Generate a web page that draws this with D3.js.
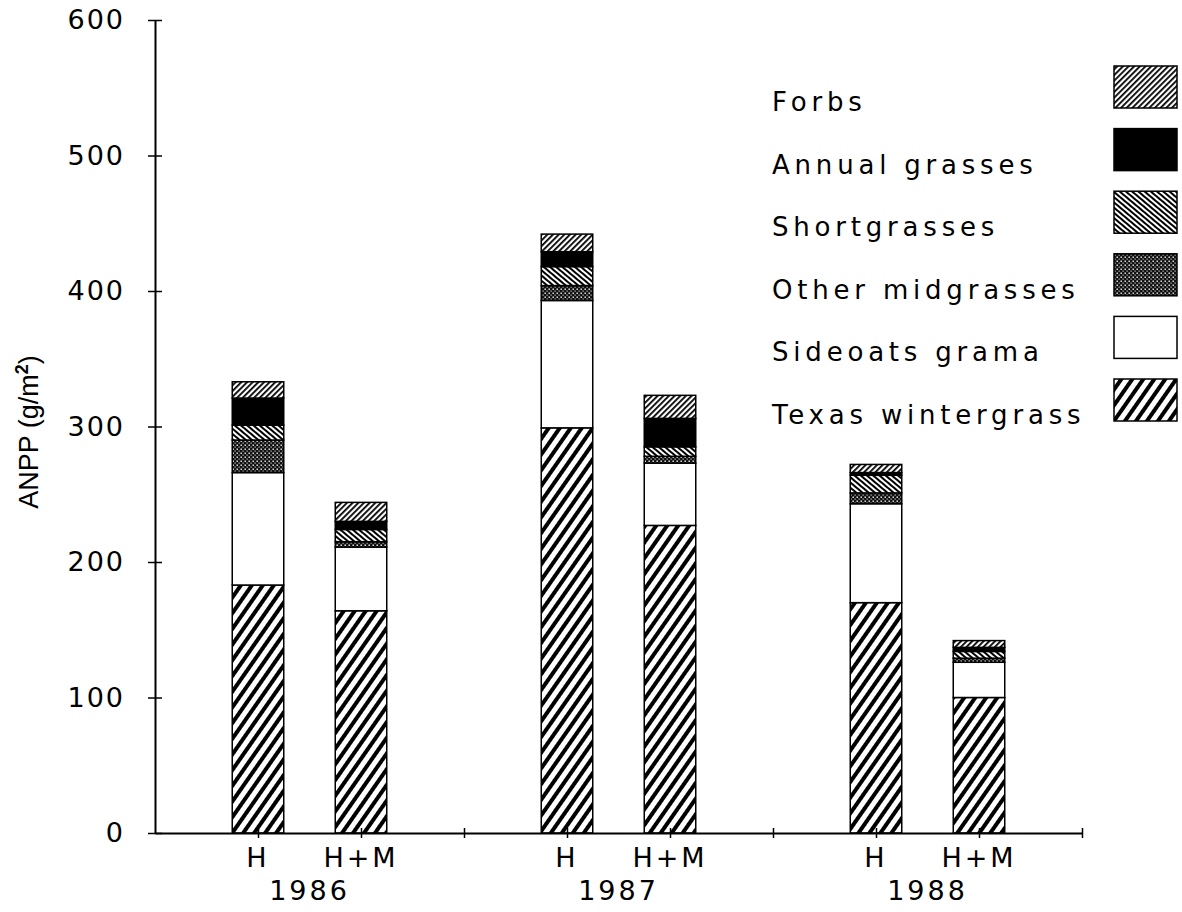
<!DOCTYPE html>
<html>
<head>
<meta charset="utf-8">
<script src="https://d3js.org/d3.v7.min.js"></script>
<style>
  body { margin: 0; background: #fff; }
  svg { display: block; }
</style>
</head>
<body>
<script>
'use strict';

// one entry per bar, left to right
let years = ['1986', '1987', '1988'];
let treatments = ['H', 'H+M'];
let barYear = ['1986', '1986', '1987', '1987', '1988', '1988'];
let barTreatment = ['H', 'H+M', 'H', 'H+M', 'H', 'H+M'];

// ANPP components (g/m2), bottom of the stack first
let texasWintergrass = [183, 164, 299, 227, 170, 100];
let sideoatsGrama    = [83, 47, 94, 46, 73, 26];
let otherMidgrasses  = [24, 4, 11, 5, 8, 3];
let shortgrasses     = [11, 9, 14, 7, 13, 5];
let annualGrasses    = [20, 6, 11, 21, 2, 3];
let forbs            = [12, 14, 13, 17, 6, 5];

let seriesNames = ['Texas wintergrass', 'Sideoats grama', 'Other midgrasses',
                   'Shortgrasses', 'Annual grasses', 'Forbs'];
let yTicks = [0, 100, 200, 300, 400, 500, 600];

let width = 1182;
let height = 912;
let svg = null;

window.onload = function() {
    svg = d3.select('body')
        .append('svg')
        .attr('width', width)
        .attr('height', height);

    svg.append('rect')
        .attr('width', width)
        .attr('height', height)
        .attr('fill', 'white');

    makePatterns();
    makeGraph();
};

function makePatterns() {
    let defs = svg.append('defs');

    // heavy "/" stripes
    let p = defs.append('pattern')
        .attr('id', 'pTexas')
        .attr('patternUnits', 'userSpaceOnUse')
        .attr('width', 9).attr('height', 9)
        .attr('patternTransform', 'rotate(35)');
    p.append('rect').attr('width', 9).attr('height', 9).attr('fill', 'white');
    p.append('rect').attr('width', 4).attr('height', 9).attr('fill', 'black');

    // white
    p = defs.append('pattern')
        .attr('id', 'pSideoats')
        .attr('patternUnits', 'userSpaceOnUse')
        .attr('width', 4).attr('height', 4);
    p.append('rect').attr('width', 4).attr('height', 4).attr('fill', 'white');

    // black with white dots
    p = defs.append('pattern')
        .attr('id', 'pOther')
        .attr('patternUnits', 'userSpaceOnUse')
        .attr('width', 4).attr('height', 4);
    p.append('rect').attr('width', 4).attr('height', 4).attr('fill', '#111');
    p.append('rect').attr('x', 0.5).attr('y', 0.5).attr('width', 1.4).attr('height', 1.4).attr('fill', 'white');
    p.append('rect').attr('x', 2.5).attr('y', 2.5).attr('width', 1.2).attr('height', 1.2).attr('fill', '#ccc');

    // fine "\" hatch
    p = defs.append('pattern')
        .attr('id', 'pShort')
        .attr('patternUnits', 'userSpaceOnUse')
        .attr('width', 4).attr('height', 4)
        .attr('patternTransform', 'rotate(-50)');
    p.append('rect').attr('width', 4).attr('height', 4).attr('fill', 'white');
    p.append('rect').attr('width', 2).attr('height', 4).attr('fill', 'black');

    // solid black
    p = defs.append('pattern')
        .attr('id', 'pAnnual')
        .attr('patternUnits', 'userSpaceOnUse')
        .attr('width', 4).attr('height', 4);
    p.append('rect').attr('width', 4).attr('height', 4).attr('fill', 'black');

    // fine "/" hatch
    p = defs.append('pattern')
        .attr('id', 'pForbs')
        .attr('patternUnits', 'userSpaceOnUse')
        .attr('width', 4).attr('height', 4)
        .attr('patternTransform', 'rotate(45)');
    p.append('rect').attr('width', 4).attr('height', 4).attr('fill', 'white');
    p.append('rect').attr('width', 1.8).attr('height', 4).attr('fill', 'black');
}

let fills = {
    'Texas wintergrass': 'url(#pTexas)',
    'Sideoats grama': 'url(#pSideoats)',
    'Other midgrasses': 'url(#pOther)',
    'Shortgrasses': 'url(#pShort)',
    'Annual grasses': 'url(#pAnnual)',
    'Forbs': 'url(#pForbs)'
};

function makeGraph() {
    let values = [texasWintergrass, sideoatsGrama, otherMidgrasses,
                  shortgrasses, annualGrasses, forbs];

    let rows = barYear.map((yr, i) => {
        let row = { year: yr, treatment: barTreatment[i] };
        seriesNames.forEach((name, k) => { row[name] = values[k][i]; });
        return row;
    });

    // 9 slots: bar, bar, gap per year
    let xScale = d3.scaleLinear().domain([0, 9]).range([155, 1082]);
    let yScale = d3.scaleLinear().domain([0, 600]).range([833, 20]);
    let slot = (i) => Math.floor(i / 2) * 3 + 1 + (i % 2);
    let barWidth = (xScale(1) - xScale(0)) * 0.5;

    let stack = d3.stack().keys(seriesNames);
    let layers = stack(rows);

    let g = svg.append('g');
    layers.forEach((layer) => {
        g.selectAll(null)
            .data(layer)
            .enter()
            .append('rect')
            .attr('x', (d, i) => xScale(slot(i)) - barWidth / 2)
            .attr('y', (d) => yScale(d[1]))
            .attr('width', barWidth)
            .attr('height', (d) => yScale(d[0]) - yScale(d[1]))
            .attr('fill', fills[layer.key])
            .attr('stroke', 'black')
            .attr('stroke-width', 1.5);
    });

    drawAxes(xScale, yScale, slot);
    makeLegend();
}

function drawAxes(xScale, yScale, slot) {
    let font = 'DejaVu Sans';

    let yAxis = d3.axisLeft(yScale)
        .tickValues(yTicks)
        .tickSizeInner(6)
        .tickSizeOuter(0)
        .tickPadding(24);
    let ga = svg.append('g')
        .attr('transform', 'translate(155, 0)')
        .call(yAxis);
    ga.select('.domain').attr('stroke-width', 2);
    ga.selectAll('.tick line').attr('x1', -7).attr('x2', 7).attr('stroke-width', 1.5);
    ga.selectAll('.tick text')
        .style('font-family', font)
        .style('font-size', '27px')
        .attr('letter-spacing', 2)
        .attr('fill', 'black');

    // x baseline with ticks under bars and between years
    let tickSlots = [];
    barYear.forEach((d, i) => tickSlots.push(slot(i)));
    years.forEach((d, i) => tickSlots.push(i * 3 + 3));

    let xAxis = d3.axisBottom(xScale)
        .tickValues(tickSlots)
        .tickSizeInner(5)
        .tickSizeOuter(0)
        .tickFormat('');
    let gx = svg.append('g')
        .attr('transform', 'translate(0, ' + yScale(0) + ')')
        .call(xAxis);
    gx.select('.domain').attr('stroke-width', 2);
    gx.selectAll('.tick line').attr('y1', -5).attr('y2', 5).attr('stroke-width', 1.5);

    svg.selectAll('.trt')
        .data(barTreatment)
        .enter()
        .append('text')
        .attr('class', 'trt')
        .attr('x', (d, i) => xScale(slot(i)))
        .attr('y', 867)
        .attr('text-anchor', 'middle')
        .style('font-family', font)
        .style('font-size', '27px')
        .attr('letter-spacing', 3)
        .text((d) => d);

    svg.selectAll('.yr')
        .data(years)
        .enter()
        .append('text')
        .attr('class', 'yr')
        .attr('x', (d, i) => xScale(i * 3 + 1.5))
        .attr('y', 900)
        .attr('text-anchor', 'middle')
        .style('font-family', font)
        .style('font-size', '27px')
        .attr('letter-spacing', 3)
        .text((d) => d);

    let title = svg.append('text')
        .attr('transform', 'translate(38, 432) rotate(-90)')
        .attr('text-anchor', 'middle')
        .style('font-family', 'Liberation Sans')
        .style('font-size', '27px');
    title.append('tspan').text('ANPP (g/m');
    title.append('tspan').attr('dy', -10).style('font-size', '18px').style('font-weight', 'bold').text('2');
    title.append('tspan').attr('dy', 10).text(')');
}

function makeLegend() {
    let order = seriesNames.slice().reverse();
    let ly = d3.scaleLinear().domain([0, 5]).range([66, 379]);

    let leg = svg.append('g');
    leg.selectAll('rect')
        .data(order)
        .enter()
        .append('rect')
        .attr('x', 1114)
        .attr('y', (d, i) => ly(i))
        .attr('width', 63)
        .attr('height', 42)
        .attr('fill', (d) => fills[d])
        .attr('stroke', 'black')
        .attr('stroke-width', 1.5);

    leg.selectAll('text')
        .data(order)
        .enter()
        .append('text')
        .attr('x', 772)
        .attr('y', (d, i) => ly(i) + 45)
        .style('font-family', 'DejaVu Sans')
        .style('font-size', '26px')
        .attr('letter-spacing', 4.8)
        .text((d) => d);
}
</script>
</body>
</html>
